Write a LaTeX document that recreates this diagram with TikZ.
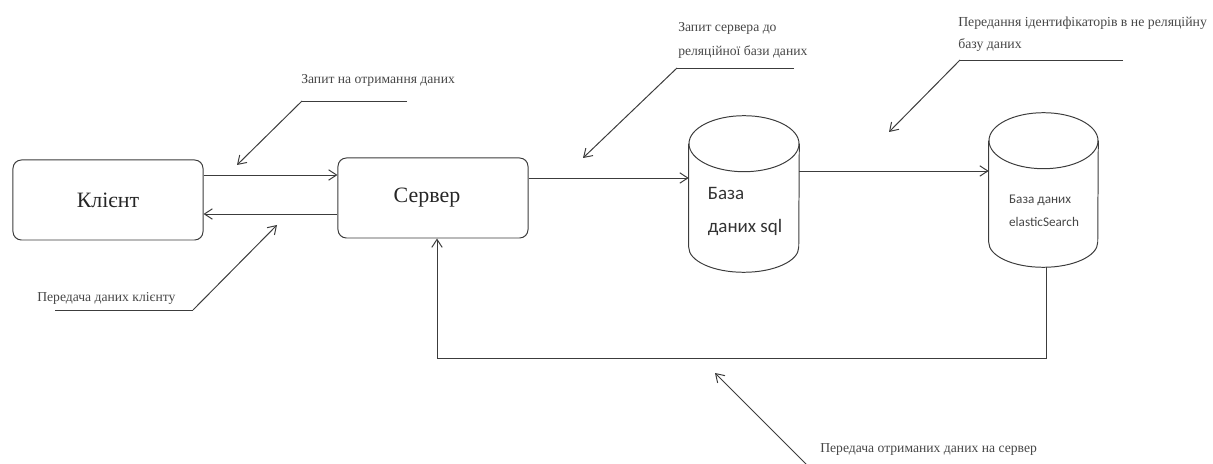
\documentclass[tikz,border=0pt]{standalone}
\usepackage{fontspec}
\setmainfont{Liberation Serif}
\newfontfamily\dbfont{Carlito}
\usepackage{tikz}
\usetikzlibrary{arrows.meta, positioning, calc}

\definecolor{line_gray}{RGB}{60, 60, 60}
\definecolor{text_gray}{RGB}{70, 70, 70}

\tikzset{
  box/.style={draw=line_gray, line width=0.7pt, rounded corners=6pt,
              minimum width=4.75cm, minimum height=2cm,
              font=\fontsize{15.6}{18}\selectfont, text=black!85},
  dbbox/.style={inner sep=0pt, minimum width=2.75cm, minimum height=3.9cm},
  dbline/.style={draw=line_gray, line width=0.7pt},
  note/.style={anchor=west, inner sep=0pt, align=left, text=text_gray,
               font=\fontsize{9.7}{16.5}\selectfont},
  flow/.style={draw=line_gray, line width=0.7pt,
               -{Straight Barb[length=2mm, width=2.6mm]}},
  lead/.style={draw=line_gray, line width=0.6pt}
}

% cylinder drawn round a named box: #1 node, #2 x radius
\newcommand{\drawdb}[2]{%
  \draw[dbline] ([yshift=-0.7cm]#1.north) ellipse[x radius=#2, y radius=0.7cm];
  \draw[dbline] ([yshift=-0.7cm]#1.north west) -- ([yshift=0.625cm]#1.south west)
    arc[start angle=180, end angle=360, x radius=#2, y radius=0.625cm]
    -- ([yshift=-0.7cm]#1.north east);
}

\begin{document}
\begin{tikzpicture}[x=0.025cm, y=-0.025cm]
  \clip (0,0) rectangle (1213,464);

  % main blocks
  \node[box] (client) at (108, 200) {Клієнт};
  \node[box, text width=4.75cm, inner xsep=0pt, align=center] (server) at (433, 198) {\hspace*{-0.3cm}Сервер};
  \node[dbbox] (sql) at (744, 194) {};
  \node[dbbox, minimum width=2.725cm, minimum height=3.85cm] (es) at (1043.5, 190) {};
  \drawdb{sql}{1.375cm}
  \drawdb{es}{1.3625cm}
  \node[align=left, inner sep=0pt, text=black!80,
        font=\dbfont\fontsize{13.5}{23.5}\selectfont] (sqltext) at (745, 211) {База\\даних sql};
  \node[align=left, inner sep=0pt, text=text_gray,
        font=\dbfont\fontsize{9.4}{16.4}\selectfont] (estext) at (1044, 210.5) {База даних\\elasticSearch};

  % levels of the links
  \coordinate (y_req)  at (0, 175);
  \coordinate (y_resp) at (0, 214);
  \coordinate (y_sql)  at (0, 178);
  \coordinate (y_es)   at (0, 171);
  \coordinate (back_r) at (1046, 358);
  \coordinate (back_l) at (437, 358);

  \draw[flow] (client.east |- y_req) -- (server.west |- y_req);
  \draw[flow] (server.west |- y_resp) -- (client.east |- y_resp);
  \draw[flow] (server.east |- y_sql) -- (sql.west |- y_sql);
  \draw[flow] (sql.east |- y_es) -- (es.west |- y_es);
  \draw[flow] (es.south -| back_r) -- (back_r) -- (back_l) -- (server.south -| back_l);

  % notes
  \node[note] (n_req) at (301, 80) {Запит на отримання даних};
  \coordinate (n_req_a) at (407, 101);
  \coordinate (n_req_b) at (302, 101);
  \coordinate (n_req_tip) at (237, 165);
  \draw[lead] (n_req_a) -- (n_req_b);
  \draw[flow] (n_req_b) -- (n_req_tip);

  \node[note] (n_resp) at (37, 298) {Передача даних клієнту};
  \coordinate (n_resp_a) at (55, 310);
  \coordinate (n_resp_b) at (193, 310);
  \coordinate (n_resp_tip) at (277, 225);
  \draw[lead] (n_resp_a) -- (n_resp_b);
  \draw[flow] (n_resp_b) -- (n_resp_tip);

  \node[note, font=\fontsize{9.7}{17}\selectfont] (n_sql) at (678, 40) {Запит сервера до\\реляційної бази даних};
  \coordinate (n_sql_a) at (794, 68);
  \coordinate (n_sql_b) at (677, 68);
  \coordinate (n_sql_tip) at (583, 158);
  \draw[lead] (n_sql_a) -- (n_sql_b);
  \draw[flow] (n_sql_b) -- (n_sql_tip);

  \node[note, font=\fontsize{9.8}{15.6}\selectfont] (n_es) at (958, 34) {Передання ідентифікаторів в не реляційну\\базу даних};
  \coordinate (n_es_a) at (1123, 60);
  \coordinate (n_es_b) at (960, 60);
  \coordinate (n_es_tip) at (889, 132);
  \draw[lead] (n_es_a) -- (n_es_b);
  \draw[flow] (n_es_b) -- (n_es_tip);

  \node[note] (n_back) at (820, 449) {Передача отриманих даних на сервер};
  \coordinate (n_back_a) at (1045, 468);
  \coordinate (n_back_b) at (810, 468);
  \coordinate (n_back_tip) at (715, 373);
  \draw[lead] (n_back_a) -- (n_back_b);
  \draw[flow] (n_back_b) -- (n_back_tip);
\end{tikzpicture}
\end{document}
